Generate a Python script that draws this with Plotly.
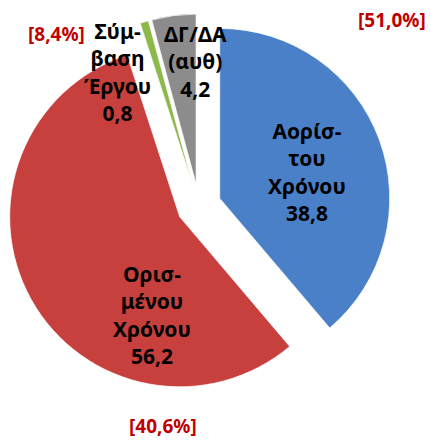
import plotly.graph_objects as go

# ---- data ----
categories = ["Αορίσ-<br>του<br>Χρόνου", "Ορισ-<br>μένου<br>Χρόνου", "Σύμ-<br>βαση<br>Έργου", "ΔΓ/ΔΑ<br>(αυθ)"]
values = [38.8, 56.2, 0.8, 4.2]
value_labels = ["38,8", "56,2", "0,8", "4,2"]
share_labels = ["[51,0%]", "[40,6%]", "[8,4%]"]

colors = ["#4A80C8", "#C8403E", "#8DB84A", "#8C8C8C"]

fig = go.Figure()
fig.add_trace(go.Pie(
    labels=[c.replace("<br>", " ") for c in categories],
    values=values,
    sort=False,
    direction="clockwise",
    rotation=0,
    pull=[0.13, 0.13, 0.13, 0.13],
    marker=dict(colors=colors, line=dict(color="rgba(255,255,255,0.7)", width=1)),
    textinfo="none",
    hoverinfo="label+value",
    showlegend=False,
    domain=dict(x=[0.0160, 0.9074], y=[0.0952, 0.9684]),
))

font_main = dict(family="Noto Sans, Lato, sans-serif", size=21, color="#000000")
font_share = dict(family="Noto Sans, Lato, sans-serif", size=19, color="#C00000")

label_pos = [(307, 172), (152, 315), (117, 72), (195, 61)]
for cat, val, (px, py) in zip(categories, value_labels, label_pos):
    fig.add_annotation(
        x=px / 431, y=1 - py / 440, xref="paper", yref="paper",
        text="<b>" + cat + "<br>" + val + "</b>",
        showarrow=False, xanchor="center", yanchor="middle",
        align="center", font=font_main,
    )

share_pos = [(392, 20), (163, 426), (56, 34)]
for s, (px, py) in zip(share_labels, share_pos):
    fig.add_annotation(
        x=px / 431, y=1 - py / 440, xref="paper", yref="paper",
        text="<b>" + s + "</b>",
        showarrow=False, xanchor="center", yanchor="middle",
        font=font_share,
    )

fig.update_layout(
    width=431, height=440,
    margin=dict(l=0, r=0, t=0, b=0),
    paper_bgcolor="white", plot_bgcolor="white",
)

fig.write_html(
    "out.html",
    config={"displayModeBar": False},
    post_script="document.body.style.margin='0';document.body.style.overflow='hidden';",
)
